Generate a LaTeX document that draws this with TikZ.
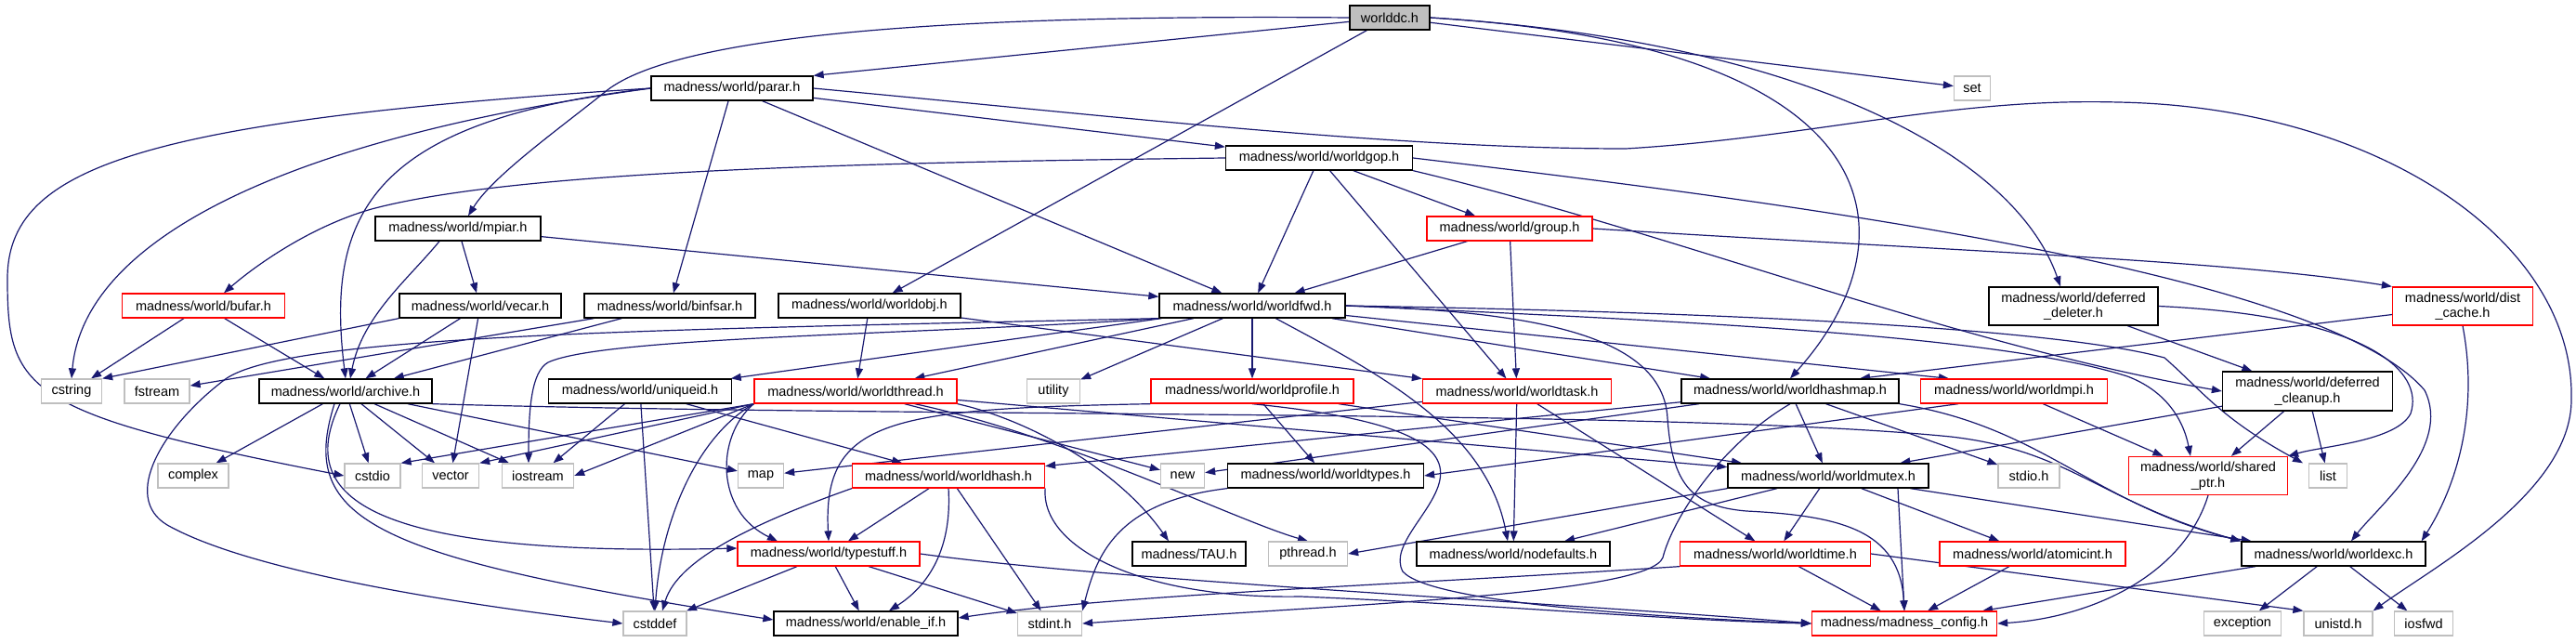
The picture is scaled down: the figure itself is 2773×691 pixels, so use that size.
\documentclass[tikz,border=0pt]{standalone}
\usepackage{fontspec}
\setmainfont{Liberation Sans}
\usetikzlibrary{arrows.meta}
\definecolor{edgec}{HTML}{191970}
\definecolor{sysc}{HTML}{BFBFBF}
\definecolor{rootc}{HTML}{BFBFBF}
\definecolor{redc}{HTML}{FF0000}
\newcommand{\gf}{\fontsize{14.5}{16.5}\selectfont}
\pgfdeclarelayer{bg}
\pgfsetlayers{bg,main}
\tikzset{
  nd/.style={rectangle, line width=1.3pt, fill=white, minimum height=26pt, inner sep=0pt, font=\gf, align=center, text=black},
  blknd/.style={nd, draw=black},
  rednd/.style={nd, draw=redc},
  sysnd/.style={nd, draw=sysc},
  rootnd/.style={nd, draw=black, fill=rootc},
  edge/.style={draw=edgec, line width=1.2pt, -{Triangle[length=11pt,width=8pt]}},
}
\begin{document}
\begin{tikzpicture}[x=1pt,y=-1pt]
\useasboundingbox (0,0) rectangle (2773,691);
% row 0-3
\node[rootnd, minimum width=86pt] (worlddc) at (1496,19) {worlddc.h};
\node[blknd, minimum width=174pt] (parar) at (788,95) {madness/world/parar.h};
\node[sysnd, minimum width=39pt] (set) at (2123,95) {set};
\node[blknd, minimum width=201pt] (wgop) at (1420,170) {madness/world/worldgop.h};
\node[blknd, minimum width=178pt] (mpiar) at (493,246) {madness/world/mpiar.h};
\node[rednd, minimum width=178pt] (group) at (1625,246) {madness/world/group.h};
% row 329
\node[rednd, minimum width=175pt] (bufar) at (219,329) {madness/world/bufar.h};
\node[blknd, minimum width=174pt] (vecar) at (517,329) {madness/world/vecar.h};
\node[blknd, minimum width=184pt] (binfsar) at (721,329) {madness/world/binfsar.h};
\node[blknd, minimum width=196pt] (worldobj) at (936,329) {madness/world/worldobj.h};
\node[blknd, minimum width=200pt] (wfwd) at (1348,329) {madness/world/worldfwd.h};
\node[blknd, minimum width=182pt, minimum height=41pt] (ddel) at (2232,329.5) {madness/world/deferred\\\_deleter.h};
\node[rednd, minimum width=151pt, minimum height=41pt] (distcache) at (2651,329.5) {madness/world/dist\\\_cache.h};
% row 421
\node[sysnd, minimum width=65pt] (cstring) at (77,421) {cstring};
\node[sysnd, minimum width=70pt] (fstream) at (169,421) {fstream};
\node[blknd, minimum width=186pt] (archive) at (372,421) {madness/world/archive.h};
\node[blknd, minimum width=197pt] (uniqueid) at (689,421) {madness/world/uniqueid.h};
\node[rednd, minimum width=218pt] (wthread) at (921,421) {madness/world/worldthread.h};
\node[sysnd, minimum width=57pt] (utility) at (1134,421) {utility};
\node[rednd, minimum width=218pt] (wprofile) at (1348,421) {madness/world/worldprofile.h};
\node[rednd, minimum width=203pt] (wtask) at (1633,421) {madness/world/worldtask.h};
\node[blknd, minimum width=234pt] (whashmap) at (1927,421) {madness/world/worldhashmap.h};
\node[rednd, minimum width=201pt] (wmpi) at (2168,421) {madness/world/worldmpi.h};
\node[blknd, minimum width=183pt, minimum height=42pt] (dclean) at (2484,421) {madness/world/deferred\\\_cleanup.h};
% row 512
\node[sysnd, minimum width=76pt] (complex) at (208,512) {complex};
\node[sysnd, minimum width=60pt] (cstdio) at (401,512) {cstdio};
\node[sysnd, minimum width=61pt] (vector) at (485,512) {vector};
\node[sysnd, minimum width=77pt] (iostream) at (579,512) {iostream};
\node[sysnd, minimum width=49pt] (map) at (819,512) {map};
\node[rednd, minimum width=207pt] (worldhash) at (1021,512) {madness/world/worldhash.h};
\node[sysnd, minimum width=47pt] (new) at (1273,512) {new};
\node[blknd, minimum width=211pt] (wtypes) at (1427,512) {madness/world/worldtypes.h};
\node[blknd, minimum width=216pt] (wmutex) at (1968,512) {madness/world/worldmutex.h};
\node[sysnd, minimum width=66pt] (stdio) at (2184,512) {stdio.h};
\node[rednd, minimum width=171pt, minimum height=41pt] (sharedptr) at (2377,512) {madness/world/shared\\\_ptr.h};
\node[sysnd, minimum width=41pt] (list) at (2506,512) {list};
% row 596
\node[rednd, minimum width=196pt] (typestuff) at (892,596) {madness/world/typestuff.h};
\node[blknd, minimum width=122pt] (tau) at (1280,596) {madness/TAU.h};
\node[sysnd, minimum width=85pt] (pthread) at (1408,596) {pthread.h};
\node[blknd, minimum width=208pt] (nodefaults) at (1629,596) {madness/world/nodefaults.h};
\node[rednd, minimum width=205pt] (wtime) at (1911,596) {madness/world/worldtime.h};
\node[rednd, minimum width=200pt] (atomicint) at (2188,596) {madness/world/atomicint.h};
\node[blknd, minimum width=198pt] (wexc) at (2512,596) {madness/world/worldexc.h};
% row 671
\node[sysnd, minimum width=68pt] (cstddef) at (705,671) {cstddef};
\node[blknd, minimum width=198pt] (enableif) at (932,671) {madness/world/enable\_if.h};
\node[sysnd, minimum width=69pt] (stdint) at (1130,671) {stdint.h};
\node[rednd, minimum width=199pt] (mconfig) at (2050,671) {madness/madness\_config.h};
\node[sysnd, minimum width=83pt] (exception) at (2414,671) {exception};
\node[sysnd, minimum width=74pt] (unistd) at (2517,671) {unistd.h};
\node[sysnd, minimum width=63pt] (iosfwd) at (2609,671) {iosfwd};

\begin{pgfonlayer}{bg}
% worlddc
\draw[edge] (worlddc.west) .. controls (1000,15) and (720,40) .. (650,100) .. controls (600,140) and (530,190) .. ([xshift=11pt]mpiar.north);
\draw[edge] (worlddc) -- (parar.north east);
\draw[edge] (worlddc) -- (worldobj);
\draw[edge] (worlddc) -- (set);
\draw[edge] (worlddc.east) .. controls (1950,45) and (2170,170) .. ([xshift=-14pt]ddel.north);
\draw[edge] (worlddc.east) .. controls (2050,50) and (2060,260) .. (whashmap.north);
% parar
\draw[edge] (parar.west) .. controls (150,130) and (8,180) .. (8,300) .. controls (8,420) and (25,445) .. (cstdio.west);
\draw[edge] (parar.west) .. controls (300,150) and (90,260) .. (cstring.north);
\draw[edge] (parar.west) .. controls (400,130) and (350,230) .. (archive.north);
\draw[edge] (parar) -- (binfsar);
\draw[edge] (parar) -- (wfwd);
\draw[edge] (parar) -- (wgop);
\draw[edge] (parar.east) .. controls (1200,125) and (1500,160) .. (1750,160) .. controls (1950,148) and (2100,105) .. (2280,110) .. controls (2560,115) and (2772,260) .. (2768,430) .. controls (2768,530) and (2620,610) .. (unistd.north east);
% worldgop
\draw[edge] (wgop.west) .. controls (900,175) and (550,185) .. (400,225) .. controls (330,245) and (270,290) .. ([xshift=22pt]bufar.north);
\draw[edge] (wgop) -- (group);
\draw[edge] (wgop) -- (wfwd);
\draw[edge] (wgop) -- (wtask);
\draw[edge] (wgop.south east) .. controls (1800,250) and (2100,370) .. (dclean.west);
\draw[edge] (wgop.east) .. controls (1900,215) and (2500,290) .. (2610,420) .. controls (2640,480) and (2560,545) .. ([xshift=19pt]wexc.north);
% mpiar
\draw[edge] (mpiar) -- (vecar);
\draw[edge] ([xshift=-20pt]mpiar.south) .. controls (440,300) and (390,340) .. ([xshift=5pt]archive.north);
\draw[edge] (mpiar) -- (wfwd);
% group
\draw[edge] (group) -- (wfwd);
\draw[edge] (group) -- (wtask);
\draw[edge] (group.east) .. controls (2100,270) and (2400,280) .. (distcache.north west);
% bufar, vecar, binfsar, worldobj
\draw[edge] (bufar) -- (cstring);
\draw[edge] (bufar) -- (archive);
\draw[edge] (vecar) -- (archive);
\draw[edge] (vecar) -- (vector);
\draw[edge] (vecar.south west) -- (cstring.north east);
\draw[edge] (binfsar) -- (fstream);
\draw[edge] (binfsar) -- (archive);
\draw[edge] (worldobj) -- (wthread);
\draw[edge] (worldobj) -- (wtask);
% worldfwd
\draw[edge] (wfwd) -- (uniqueid);
\draw[edge] (wfwd) -- (wthread);
\draw[edge] (wfwd) -- (utility);
\draw[edge] (wfwd) -- (wprofile);
\draw[edge] (wfwd) -- (whashmap);
\draw[edge] (wfwd) -- ([xshift=-70pt]wmpi.north);
\draw[edge] (wfwd.east) .. controls (1800,345) and (2150,360) .. (2290,405) .. controls (2330,420) and (2350,450) .. ([xshift=-19pt]sharedptr.north);
\draw[edge] (wfwd.east) .. controls (1800,335) and (2200,350) .. (2330,385) .. controls (2370,420) and (2390,450) .. ([xshift=-27pt]list.north);
\draw[edge] (wfwd.south west) .. controls (1000,360) and (650,362) .. (590,390) .. controls (572,400) and (569,440) .. ([xshift=-10pt]iostream.north);
\draw[edge] (wfwd.south west) .. controls (700,355) and (300,360) .. (240,410) .. controls (175,460) and (130,535) .. (180,565) .. controls (260,610) and (450,645) .. (cstddef.west);
\draw[edge] (wfwd) .. controls (1480,400) and (1600,460) .. ([xshift=-6pt]nodefaults.north);
\draw[edge] (wfwd.east) .. controls (1650,335) and (1790,360) .. (1795,450) .. controls (1800,520) and (1820,545) .. (1880,550) .. controls (1980,555) and (2045,570) .. (mconfig.north);
% archive
\draw[edge] (archive) -- (complex);
\draw[edge] (archive) -- (cstdio);
\draw[edge] (archive) -- (vector);
\draw[edge] (archive) -- (iostream);
\draw[edge] (archive) -- (map);
\draw[edge] ([xshift=-6pt]archive.south) .. controls (320,530) and (380,600) .. ([yshift=6pt]typestuff.west);
\draw[edge] ([xshift=-12pt]archive.south) .. controls (320,560) and (400,600) .. ([yshift=4pt]enableif.west);
\draw[edge] (archive.south east) .. controls (1000,450) and (1800,440) .. (2100,470) .. controls (2230,485) and (2260,540) .. (wexc.north west);
% uniqueid
\draw[edge] (uniqueid) -- (cstddef);
\draw[edge] (uniqueid) -- (iostream);
\draw[edge] (uniqueid) -- (worldhash);
% worldthread
\draw[edge] (wthread.south west) .. controls (770,470) and (770,550) .. ([xshift=-55pt]typestuff.north);
\draw[edge] (wthread.south west) .. controls (750,470) and (712,560) .. (cstddef.north);
\draw[edge] (wthread.south east) .. controls (1100,450) and (1200,500) .. ([xshift=-22pt]tau.north);
\draw[edge] (wthread) -- (new);
\draw[edge] (wthread) .. controls (1150,470) and (1330,560) .. (pthread.north);
\draw[edge] (wthread.south west) -- (cstdio.north east);
\draw[edge] (wthread.south west) -- (vector.north east);
\draw[edge] (wthread.south west) -- (iostream.east);
\draw[edge] (wthread) -- (wmutex);
% worldprofile
\draw[edge] (wprofile) -- (wtypes);
\draw[edge] (wprofile.south west) .. controls (960,440) and (885,450) .. (typestuff.north);
\draw[edge] (wprofile.south) .. controls (1700,470) and (1480,560) .. (1510,615) .. controls (1540,650) and (1800,665) .. (mconfig.west);
\draw[edge] (wprofile) -- (wmutex);
% worldtask
\draw[edge] (wtask) -- (nodefaults);
\draw[edge] (wtask) -- (wtime);
\draw[edge] (wtask) -- (map);
% worldhashmap
\draw[edge] (whashmap) -- (wmutex);
\draw[edge] (whashmap) -- (stdio);
\draw[edge] (whashmap) -- (worldhash);
\draw[edge] (whashmap) -- (new);
\draw[edge] (whashmap.south) .. controls (1850,480) and (1800,560) .. (1790,600) .. controls (1775,640) and (1450,650) .. (stdint.east);
\draw[edge] (whashmap.south east) .. controls (2200,460) and (2250,540) .. (wexc.north west);
% worldmpi
\draw[edge] ([xshift=-60pt]wmpi.south) -- (wtypes.east);
\draw[edge] (wmpi) -- (sharedptr);
% deferred deleter, dist cache, cleanup
\draw[edge] (ddel) -- (dclean);
\draw[edge] (ddel.east) .. controls (2550,340) and (2610,400) .. (2595,445) .. controls (2580,475) and (2500,480) .. (sharedptr.north east);
\draw[edge] (distcache) -- ([xshift=75pt]whashmap.north);
\draw[edge] (distcache.south) .. controls (2670,450) and (2640,530) .. ([xshift=-5pt]wexc.north east);
\draw[edge] (dclean) -- (wmutex);
\draw[edge] (dclean) -- (sharedptr);
\draw[edge] (dclean) -- (list);
% worldhash
\draw[edge] (worldhash) -- (typestuff);
\draw[edge] (worldhash.south west) .. controls (820,560) and (730,600) .. ([xshift=8pt]cstddef.north);
\draw[edge] (worldhash.south) .. controls (1025,590) and (1000,630) .. ([xshift=25pt]enableif.north);
\draw[edge] (worldhash) -- (stdint);
\draw[edge] (worldhash.south east) .. controls (1120,590) and (1230,645) .. (1400,642) .. controls (1600,650) and (1800,668) .. (mconfig.west);
% worldtypes
\draw[edge] (wtypes.south west) .. controls (1200,540) and (1180,600) .. (stdint.north east);
% worldmutex
\draw[edge] (wmutex.south west) -- (pthread.east);
\draw[edge] (wmutex) -- (nodefaults);
\draw[edge] (wmutex) -- (wtime);
\draw[edge] (wmutex) -- (atomicint);
\draw[edge] (wmutex) -- (wexc);
\draw[edge] ([xshift=75pt]wmutex.south) -- (mconfig.north);
% typestuff
\draw[edge] (typestuff) -- (cstddef);
\draw[edge] (typestuff) -- (enableif);
\draw[edge] (typestuff) -- (stdint);
\draw[edge] (typestuff.east) .. controls (1200,625) and (1700,650) .. (mconfig.west);
% worldtime
\draw[edge] (wtime.south west) .. controls (1500,630) and (1200,640) .. ([yshift=6pt]enableif.east);
\draw[edge] (wtime) -- (mconfig);
\draw[edge] (wtime.east) -- (unistd.north west);
% rest
\draw[edge] (atomicint) -- (mconfig);
\draw[edge] (wexc) -- (mconfig);
\draw[edge] (wexc) -- (exception);
\draw[edge] (wexc) -- (iosfwd);
\draw[edge] (sharedptr.south) .. controls (2350,620) and (2250,665) .. (mconfig.east);
\end{pgfonlayer}
\end{tikzpicture}
\end{document}
